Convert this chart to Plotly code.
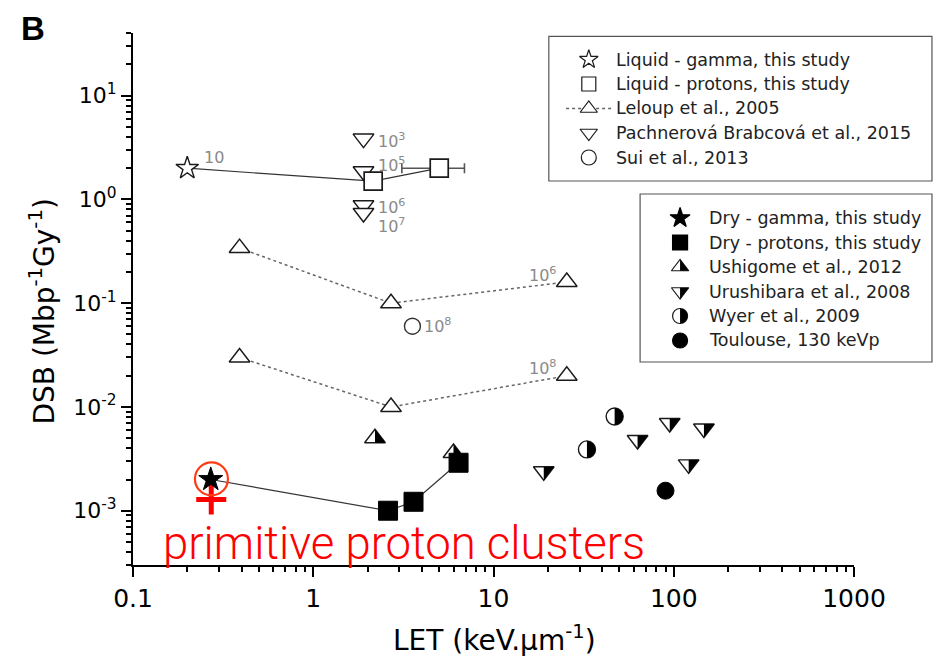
import numpy as np
import plotly.graph_objects as go

# ---------------- data ----------------
liquid_gamma_let = [0.2]
liquid_gamma_dsb = [2.0]
liquid_gamma_notes = ["10"]

liquid_protons_let = [2.15, 5.0]
liquid_protons_dsb = [1.5, 2.0]
liquid_protons_let_err = [0.0, 1.9]

leloup_let = [0.39, 2.7, 25.5]
leloup_dsb_high = [0.34, 0.10, 0.16]
leloup_dsb_low = [0.030, 0.010, 0.020]
leloup_note_high = "10<sup>6</sup>"
leloup_note_low = "10<sup>8</sup>"

pachnerova_let = [1.9, 1.9, 1.9, 1.9]
pachnerova_dsb = [3.86, 1.87, 0.88, 0.74]
pachnerova_notes = ["10<sup>3</sup>", "10<sup>5</sup>", "10<sup>6</sup>", "10<sup>7</sup>"]

sui_let = [3.55]
sui_dsb = [0.06]
sui_notes = ["10<sup>8</sup>"]

dry_gamma_let = [0.27]
dry_gamma_dsb = [0.002]

dry_protons_let = [2.6, 3.6, 6.4]
dry_protons_dsb = [0.001, 0.00122, 0.0029]

ushigome_let = [2.2, 6.0]
ushigome_dsb = [0.005, 0.0036]

urushibara_let = [19, 63, 95, 121, 147]
urushibara_dsb = [0.0024, 0.0048, 0.0070, 0.0028, 0.0062]

wyer_let = [33, 47]
wyer_dsb = [0.0039, 0.0081]

toulouse_let = [90]
toulouse_dsb = [0.00156]

x_tick_vals = [0.1, 1, 10, 100, 1000]
x_tick_text = ["0.1", "1", "10", "100", "1000"]
y_tick_vals = [1e-3, 1e-2, 1e-1, 1, 10]
y_tick_text = ["10<sup>-3</sup>", "10<sup>-2</sup>", "10<sup>-1</sup>",
               "10<sup>0</sup>", "10<sup>1</sup>"]

legend_upper = ["Liquid - gamma, this study", "Liquid - protons, this study",
                "Leloup et al., 2005", "Pachnerová Brabcová et al., 2015",
                "Sui et al., 2013"]
legend_lower = ["Dry - gamma, this study", "Dry - protons, this study",
                "Ushigome et al., 2012", "Urushibara et al., 2008",
                "Wyer et al., 2009", "Toulouse, 130 keVp"]

# ---------------- layout / style ----------------
W, H = 937, 657
PL, PR, PT, PB = 132.7, 854.0, 33.0, 565.0
FONT = "DejaVu Sans"
INK = "#1a1a1a"
GREY = "#8a8a8a"
MLW = 1.4


def paper_x(p):
    return (p - PL) / (PR - PL)


def paper_y(p):
    return (PB - p) / (PB - PT)


minor_x = [k * 10.0 ** e for e in range(-1, 3) for k in range(2, 10)]
minor_y = [k * 10.0 ** e for e in range(-4, 2) for k in range(2, 10)
           if 3e-4 <= k * 10.0 ** e <= 40]


def half_tri_up(size):
    r = size / 2.0
    rt = r * 2 / np.sqrt(3)
    return f"M0,{-r/2:.2f} L{rt:.2f},{-r/2:.2f} L0,{r:.2f} Z"


def half_tri_down(size):
    r = size / 2.0
    rt = r * 2 / np.sqrt(3)
    return f"M0,{r/2:.2f} L{rt:.2f},{r/2:.2f} L0,{-r:.2f} Z"


def half_circle(size):
    r = size / 2.0
    k = 0.5523 * r
    return (f"M0,{r:.2f} C{k:.2f},{r:.2f} {r:.2f},{k:.2f} {r:.2f},0 "
            f"C{r:.2f},{-k:.2f} {k:.2f},{-r:.2f} 0,{-r:.2f} Z")


def ring(r, cx=0.0, cy=0.0):
    k = 0.5523 * r
    return (f"M{cx:.2f},{cy + r:.2f} "
            f"C{cx + k:.2f},{cy + r:.2f} {cx + r:.2f},{cy + k:.2f} {cx + r:.2f},{cy:.2f} "
            f"C{cx + r:.2f},{cy - k:.2f} {cx + k:.2f},{cy - r:.2f} {cx:.2f},{cy - r:.2f} "
            f"C{cx - k:.2f},{cy - r:.2f} {cx - r:.2f},{cy - k:.2f} {cx - r:.2f},{cy:.2f} "
            f"C{cx - r:.2f},{cy + k:.2f} {cx - k:.2f},{cy + r:.2f} {cx:.2f},{cy + r:.2f} Z")


def half_shape(path, x, y, xref="x", yref="y"):
    return dict(type="path", xref=xref, yref=yref, xsizemode="pixel",
                ysizemode="pixel", xanchor=x, yanchor=y, path=path,
                fillcolor="black", line=dict(width=0), layer="above")


fig = go.Figure()

# connecting lines of this study
fig.add_trace(go.Scatter(x=liquid_gamma_let + liquid_protons_let,
                         y=liquid_gamma_dsb + liquid_protons_dsb,
                         mode="lines", line=dict(color="#333333", width=1.2),
                         hoverinfo="skip"))
fig.add_trace(go.Scatter(x=dry_gamma_let + dry_protons_let,
                         y=dry_gamma_dsb + dry_protons_dsb,
                         mode="lines", line=dict(color="#333333", width=1.2),
                         hoverinfo="skip"))

# Leloup
for ys in (leloup_dsb_high, leloup_dsb_low):
    fig.add_trace(go.Scatter(
        x=leloup_let, y=ys, mode="lines+markers",
        line=dict(color="#666666", width=1.5, dash="dot"),
        marker=dict(symbol="triangle-up", size=18, color="white",
                    line=dict(color=INK, width=MLW))))

# Pachnerova
fig.add_trace(go.Scatter(x=pachnerova_let, y=pachnerova_dsb, mode="markers",
                         marker=dict(symbol="triangle-down", size=18, color="white",
                                     line=dict(color=INK, width=MLW))))
# Liquid gamma
fig.add_trace(go.Scatter(x=liquid_gamma_let, y=liquid_gamma_dsb, mode="markers",
                         marker=dict(symbol="star", size=17, color="white",
                                     line=dict(color=INK, width=MLW))))
# Liquid protons
fig.add_trace(go.Scatter(x=liquid_protons_let, y=liquid_protons_dsb, mode="markers",
                         error_x=dict(type="data", array=liquid_protons_let_err,
                                      color="#555555", thickness=1.6, width=5),
                         marker=dict(symbol="square", size=18, color="white",
                                     line=dict(color=INK, width=MLW + 0.3))))
# Sui
fig.add_trace(go.Scatter(x=sui_let, y=sui_dsb, mode="markers",
                         marker=dict(symbol="circle", size=16, color="white",
                                     line=dict(color="#333333", width=MLW))))
# Ushigome (half filled)
fig.add_trace(go.Scatter(x=ushigome_let, y=ushigome_dsb, mode="markers",
                         marker=dict(symbol="triangle-up", size=18, color="white",
                                     line=dict(color=INK, width=MLW))))
# Dry gamma
fig.add_trace(go.Scatter(x=dry_gamma_let, y=dry_gamma_dsb, mode="markers",
                         marker=dict(symbol="star", size=18, color="black",
                                     line=dict(color="black", width=1))))
# Dry protons
fig.add_trace(go.Scatter(x=dry_protons_let, y=dry_protons_dsb, mode="markers",
                         marker=dict(symbol="square", size=19, color="black",
                                     line=dict(color="black", width=1))))
# Urushibara (half filled)
fig.add_trace(go.Scatter(x=urushibara_let, y=urushibara_dsb, mode="markers",
                         marker=dict(symbol="triangle-down", size=18, color="white",
                                     line=dict(color=INK, width=MLW))))
# Wyer (half filled)
fig.add_trace(go.Scatter(x=wyer_let, y=wyer_dsb, mode="markers",
                         marker=dict(symbol="circle", size=17, color="white",
                                     line=dict(color=INK, width=MLW))))
# Toulouse
fig.add_trace(go.Scatter(x=toulouse_let, y=toulouse_dsb, mode="markers",
                         marker=dict(symbol="circle", size=17, color="black",
                                     line=dict(color="black", width=1))))

shapes = []
for x, y in zip(ushigome_let, ushigome_dsb):
    shapes.append(half_shape(half_tri_up(18), x, y))
for x, y in zip(urushibara_let, urushibara_dsb):
    shapes.append(half_shape(half_tri_down(18), x, y))
for x, y in zip(wyer_let, wyer_dsb):
    shapes.append(half_shape(half_circle(17), x, y))

# red highlight around the dry gamma point
gx, gy = dry_gamma_let[0], dry_gamma_dsb[0]
shapes.append(dict(type="path", xref="x", yref="y", xsizemode="pixel",
                   ysizemode="pixel", xanchor=gx, yanchor=gy,
                   path=ring(16.5, 0.7, 0.6),
                   line=dict(color="#ff3c14", width=2.2), layer="above"))
shapes.append(dict(type="path", xref="x", yref="y", xsizemode="pixel",
                   ysizemode="pixel", xanchor=gx, yanchor=gy,
                   path="M0.5,-4 L0.5,-35 M-14.5,-20 L15.5,-20",
                   line=dict(color="#ff0000", width=5), layer="below"))

annotations = []


def note(x, y, text, dx, dy, anchor="left"):
    annotations.append(dict(x=np.log10(x), y=np.log10(y), xref="x", yref="y",
                            text=text, showarrow=False, xanchor=anchor,
                            yanchor="middle", xshift=dx, yshift=dy,
                            font=dict(family=FONT, size=16, color=GREY)))


note(liquid_gamma_let[0], liquid_gamma_dsb[0], liquid_gamma_notes[0], 15, 11)
pach_offsets = [(12, -2), (12, 7), (12, -1), (12, -12)]
for (x, y, t), (dx, dy) in zip(zip(pachnerova_let, pachnerova_dsb, pachnerova_notes),
                               pach_offsets):
    note(x, y, t, dx, dy)
note(sui_let[0], sui_dsb[0], sui_notes[0], 10, 1)
note(leloup_let[-1], leloup_dsb_high[-1], leloup_note_high, -9, 8, "right")
note(leloup_let[-1], leloup_dsb_low[-1], leloup_note_low, -9, 8, "right")

# red text
annotations.append(dict(x=paper_x(161), y=paper_y(572), xref="paper", yref="paper",
                        text="primitive proton clusters", showarrow=False,
                        xanchor="left", yanchor="bottom",
                        font=dict(family="Roboto", size=45.5, color="#ff0000",
                                  weight=300)))
# panel letter
annotations.append(dict(x=paper_x(19), y=paper_y(28.5), xref="paper", yref="paper",
                        text="<b>B</b>", showarrow=False, xanchor="left",
                        yanchor="middle",
                        font=dict(family="Liberation Sans", size=33, color="black")))
# axis titles
annotations.append(dict(x=paper_x(42.5), y=paper_y(311.7), xref="paper", yref="paper",
                        text="DSB (Mbp<sup>-1</sup>Gy<sup>-1</sup>)", showarrow=False,
                        textangle=-90, xanchor="center", yanchor="middle",
                        font=dict(family=FONT, size=28, color="black")))
annotations.append(dict(x=paper_x(494), y=paper_y(638), xref="paper", yref="paper",
                        text="LET (keV.μm<sup>-1</sup>)", showarrow=False,
                        xanchor="center", yanchor="middle",
                        font=dict(family=FONT, size=28, color="black")))

# ---------------- manual legends (pixel-ranged overlay axes) ----------------
up_box = (548.7, 36.3, 932.0, 181.0)
lo_box = (640.0, 194.0, 932.0, 362.0)
up_rows = [59.5, 84.0, 108.5, 133.0, 157.5]
lo_rows = [218.0, 242.5, 267.0, 291.5, 316.0, 340.5]
up_sym_x, up_txt_x = 588.7, 614.0
lo_sym_x, lo_txt_x = 680.0, 707.0

for (x0, y0, x1, y1) in (up_box, lo_box):
    shapes.append(dict(type="rect", xref="paper", yref="paper",
                       x0=paper_x(x0), x1=paper_x(x1), y0=paper_y(y0), y1=paper_y(y1),
                       line=dict(color="#555555", width=1.2), fillcolor="rgba(0,0,0,0)",
                       layer="above"))

up_syms = [("star", "white", 14), ("square", "white", 14), ("triangle-up", "white", 15),
           ("triangle-down", "white", 15), ("circle", "white", 15)]
lo_syms = [("star", "black", 15), ("square", "black", 15), ("triangle-up", "white", 15),
           ("triangle-down", "white", 15), ("circle", "white", 15), ("circle", "black", 15)]

fig.add_trace(go.Scatter(x=[566, 611], y=[up_rows[2], up_rows[2]], mode="lines",
                         xaxis="x2", yaxis="y2", cliponaxis=False,
                         line=dict(color="#666666", width=1.3, dash="dot"),
                         hoverinfo="skip"))
for rows, syms, sx in ((up_rows, up_syms, up_sym_x), (lo_rows, lo_syms, lo_sym_x)):
    for ry, (sym, col, sz) in zip(rows, syms):
        fig.add_trace(go.Scatter(x=[sx], y=[ry], mode="markers", xaxis="x2", yaxis="y2",
                                 cliponaxis=False, hoverinfo="skip",
                                 marker=dict(symbol=sym, size=sz, color=col,
                                             line=dict(color=INK if col == "white" else "black",
                                                       width=1.2))))
shapes.append(half_shape(half_tri_up(15), lo_sym_x, lo_rows[2], "x2", "y2"))
shapes.append(half_shape(half_tri_down(15), lo_sym_x, lo_rows[3], "x2", "y2"))
shapes.append(half_shape(half_circle(15), lo_sym_x, lo_rows[4], "x2", "y2"))

for rows, labels, tx in ((up_rows, legend_upper, up_txt_x), (lo_rows, legend_lower, lo_txt_x)):
    for ry, lab in zip(rows, labels):
        annotations.append(dict(x=paper_x(tx), y=paper_y(ry), xref="paper", yref="paper",
                                text=lab, showarrow=False, xanchor="left", yanchor="middle",
                                font=dict(family=FONT, size=17.5, color="#222222")))

axis_common = dict(showgrid=False, zeroline=False, showline=True, linecolor="black",
                   linewidth=2, ticks="outside", ticklen=10, tickwidth=2,
                   tickcolor="black", mirror=False)

fig.update_layout(
    width=W, height=H, autosize=False, showlegend=False,
    margin=dict(l=PL, r=W - PR, t=PT, b=H - PB, pad=0),
    paper_bgcolor="white", plot_bgcolor="white",
    xaxis=dict(type="log", range=[-1, 3], tickmode="array", tickvals=x_tick_vals,
               ticktext=x_tick_text, tickfont=dict(family=FONT, size=25, color="black"),
               minor=dict(tickmode="array", tickvals=minor_x, ticks="outside",
                          ticklen=5, tickwidth=1.5, tickcolor="black", showgrid=False),
               **axis_common),
    yaxis=dict(type="log", range=[-3.523, 1.604], tickmode="array", tickvals=y_tick_vals,
               ticktext=y_tick_text, tickfont=dict(family=FONT, size=22, color="black"),
               minor=dict(tickmode="array", tickvals=minor_y, ticks="outside",
                          ticklen=5, tickwidth=1.5, tickcolor="black", showgrid=False),
               **axis_common),
    xaxis2=dict(overlaying="x", range=[PL, PR], visible=False, fixedrange=True),
    yaxis2=dict(overlaying="y", range=[PB, PT], visible=False, fixedrange=True),
    shapes=shapes, annotations=annotations,
)

fig.write_html("out.html",
               config={"displayModeBar": False},
               post_script="document.body.style.margin='0px';"
                           "document.body.style.overflow='hidden';")
